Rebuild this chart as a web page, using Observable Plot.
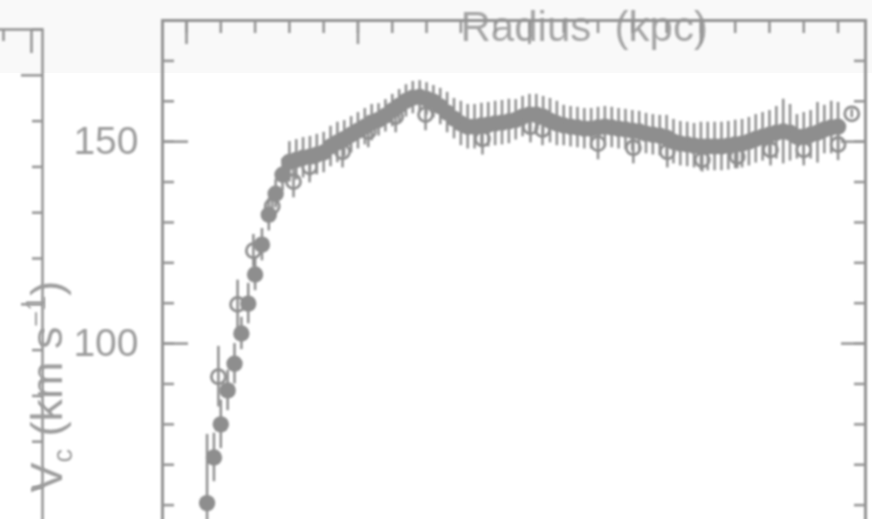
<!DOCTYPE html>
<html><head><meta charset="utf-8">
<script src="https://cdn.jsdelivr.net/npm/d3@7"></script>
<script src="https://cdn.jsdelivr.net/npm/@observablehq/plot@0.6"></script>
<style>
html,body{margin:0;padding:0;background:#fff;overflow:hidden;width:881px;height:519px;}
#wrap{position:relative;width:881px;height:519px;overflow:hidden;}
#band{position:absolute;left:0;top:0;width:872px;height:73px;background:#f9f9f9;}
#left,#main{position:absolute;top:0;}
#left{left:-156px;}
#main{left:0;}
svg{filter:blur(0.9px);}
</style></head><body><div id="wrap"><div id="band"></div><div id="left"></div><div id="main"></div></div>
<script>
// Filled circles (dense sampling)
const filledR = [0.6,0.8,1.0,1.2,1.4,1.6,1.8,2.0,2.2,2.4,2.6,2.8,3.0,3.2,3.4,3.6,3.8,4.0,4.2,4.4,4.6,4.8,5.0,5.2,5.4,5.6,5.8,6.0,6.2,6.4,6.6,6.8,7.0,7.2,7.4,7.6,7.8,8.0,8.2,8.4,8.6,8.8,9.0,9.2,9.4,9.6,9.8,10.0,10.2,10.4,10.6,10.8,11.0,11.2,11.4,11.6,11.8,12.0,12.2,12.4,12.6,12.8,13.0,13.2,13.4,13.6,13.8,14.0,14.2,14.4,14.6,14.8,15.0,15.2,15.4,15.6,15.8,16.0,16.2,16.4,16.6,16.8,17.0,17.2,17.4,17.6,17.8,18.0,18.2,18.4,18.6,18.8,19.0];
const filledV = [60.5,71.8,80.0,88.4,95.0,102.5,109.9,117.1,124.5,131.9,137.1,141.8,
145.0,145.5,146.0,146.3,146.8,147.3,148.8,149.8,150.7,151.7,
152.7,153.7,154.7,155.4,156.4,157.7,158.9,160.1,160.9,161.1,
160.6,159.9,158.7,157.2,155.7,154.5,153.7,153.7,154.0,154.2,
154.5,154.7,155.0,155.4,156.2,156.7,156.7,156.2,155.2,154.5,
154.0,153.7,153.5,153.2,153.2,153.5,153.7,153.5,153.2,153.0,
152.7,152.5,152.0,151.7,151.5,151.0,150.0,149.5,149.3,149.0,
148.8,148.8,148.8,148.8,149.0,149.3,149.5,150.0,150.7,151.2,
151.7,152.2,152.5,152.2,151.2,151.2,151.7,152.2,153.0,153.5,
153.7];
const filledErr = [17,6,6,5,5,4,5,4,4,4,3.5,4,
5,5,5,5,5,5,5,5,4.5,4.5,
4.5,4.5,4.5,4,4,4,4,4,4,4,
4,4,4.5,5,5,5.5,5.5,5.5,5.5,5.5,
5.5,5.5,5.5,5,5,5,5,5,5.5,5.5,
5,5,5,5,5,5,5,5,5,5,
5,5,5,5,5,5.5,5.5,5.5,5.5,5.5,
6,6,6,6,6,6,6,6,6,6,
6,6.5,8,7,5.5,6,6,7.5,6,6.5,
6];
// Open circles
const openR = [0.93,1.49,1.95,2.5,3.12,3.59,4.55,5.3,6.1,6.97,8.63,10.03,10.38,12.0,13.03,14.02,15.04,16.06,17.03,18.0,19.0,19.4];
const openV = [91.8,109.7,123.0,134.0,140.1,143.8,147.5,152.5,156.2,156.7,150.7,153.7,153.0,149.5,148.5,147.5,145.5,146.3,148.0,148.0,149.3,156.9];
const openErr = [7.5,6,4,4,4,4,4,4,4,4,4,4,4,4,4,4,3,3,4,4,4,1];

// Ticks
const xMinorTicks = [0,1,2,3,4,5,6,7,8,9,10,11,12,13,14,15,16,17,18,19];
const xMajorTicks = [0,5,10,15];
const yMinorTicks = [60,70,80,90,100,110,120,130,140,150,160,170];
const yMajorTicks = [100,150];
const yTickLabels = ["100","150"];
const xTitle = "Radius\u00a0\u00a0(kpc)";
const yTitle = "Vc (km s-1)";
// Neighbouring panel (partly visible at left)
const leftXMinor = [1,2,3,4];
const leftXMajor = [0,5];
const leftYMinor = [50,60,70,80,90,110,120,130,140,160];
const leftYMajor = [100,150];

const filled = filledR.map((r, i) => ({r, v: filledV[i], e: filledErr[i]}));
const open = openR.map((r, i) => ({r, v: openV[i], e: openErr[i]}));

const gray = "#8e8e8e";
const frameGray = "#939393";
const textGray = "#9c9c9c";
const font = "'Liberation Sans', Arial, Helvetica, sans-serif";

const main = Plot.plot({
  width: 881, height: 555,
  marginLeft: 162, marginRight: 16, marginTop: 20, marginBottom: 10,
  x: {domain: [-0.7, 19.8]},
  y: {domain: [50, 180]},
  style: {background: "transparent", fontFamily: font, overflow: "visible"},
  marks: [
    Plot.text([xTitle], {text: d => d, frameAnchor: "top-left", textAnchor: "start", lineAnchor: "bottom",
      dx: 298, dy: 20, fontSize: 42, fill: "#a4a4a4"}),
    Plot.text([yTitle], {text: d => d, frameAnchor: "left", rotate: -90, textAnchor: "start", lineAnchor: "bottom",
      dx: -101, dy: 209.5, fontSize: 45, fill: textGray}),
    Plot.axisY({ticks: yMajorTicks, anchor: "left", tickSize: 0, tickPadding: 24, fontSize: 39,
      tickFormat: d => yTickLabels[yMajorTicks.indexOf(d)], color: textGray, label: null}),
    Plot.axisY({ticks: yMinorTicks, anchor: "left", tickSize: -12, tickFormat: () => "", label: null, stroke: frameGray, strokeWidth: 2.5}),
    Plot.axisY({ticks: yMajorTicks, anchor: "left", tickSize: -26, tickFormat: () => "", label: null, stroke: frameGray, strokeWidth: 2.5}),
    Plot.axisY({ticks: yMinorTicks, anchor: "right", tickSize: -12, tickFormat: () => "", label: null, stroke: frameGray, strokeWidth: 2.5}),
    Plot.axisY({ticks: yMajorTicks, anchor: "right", tickSize: -25, tickFormat: () => "", label: null, stroke: frameGray, strokeWidth: 2.5}),
    Plot.axisX({ticks: xMinorTicks, anchor: "top", tickSize: -12, tickFormat: () => "", label: null, stroke: frameGray, strokeWidth: 2.5}),
    Plot.axisX({ticks: xMajorTicks, anchor: "top", tickSize: -23, tickFormat: () => "", label: null, stroke: frameGray, strokeWidth: 2.5}),
    Plot.frame({stroke: frameGray, strokeWidth: 3}),
    Plot.ruleX(filled, {x: "r", y1: d => d.v - d.e, y2: d => d.v + d.e, stroke: gray, strokeWidth: 2.5}),
    Plot.ruleX(open, {x: "r", y1: d => d.v - d.e, y2: d => d.v + d.e, stroke: gray, strokeWidth: 2.5}),
    Plot.dot(open, {x: "r", y: "v", r: 7, stroke: gray, strokeWidth: 2.8, fill: "none"}),
    Plot.dot(filled, {x: "r", y: "v", r: 8.2, fill: gray, stroke: "none"})
  ]
});

// subscript / superscript in the y title
d3.select(main).selectAll("text").filter(function() { return this.textContent === yTitle; })
  .each(function() {
    const t = d3.select(this);
    t.text(null);
    t.append("tspan").text("V");
    t.append("tspan").attr("font-size", 27).attr("dy", 10).text("c");
    t.append("tspan").attr("font-size", 45).attr("dy", -10).text("\u00a0(km\u00a0s");
    t.append("tspan").attr("font-size", 27).attr("dy", -17).text("\u22121");
    t.append("tspan").attr("font-size", 45).attr("dy", 17).text(")");
  });

document.getElementById("main").appendChild(main);

const left = Plot.plot({
  width: 200, height: 555,
  marginLeft: 10, marginRight: 2, marginTop: 29, marginBottom: 10,
  x: {domain: [5.393 - 188 / 28, 5.393]},
  y: {domain: [160 - 516 / 4.58, 160]},
  style: {background: "transparent", overflow: "visible"},
  marks: [
    Plot.axisY({ticks: leftYMinor, anchor: "right", tickSize: -11, tickFormat: () => "", label: null, stroke: frameGray, strokeWidth: 2.5}),
    Plot.axisY({ticks: leftYMajor, anchor: "right", tickSize: -22, tickFormat: () => "", label: null, stroke: frameGray, strokeWidth: 2.5}),
    Plot.axisX({ticks: leftXMinor, anchor: "top", tickSize: -11, tickFormat: () => "", label: null, stroke: frameGray, strokeWidth: 2.5}),
    Plot.axisX({ticks: leftXMajor, anchor: "top", tickSize: -23, tickFormat: () => "", label: null, stroke: frameGray, strokeWidth: 2.5}),
    Plot.frame({stroke: frameGray, strokeWidth: 2.5})
  ]
});
document.getElementById("left").appendChild(left);
</script></body></html>
